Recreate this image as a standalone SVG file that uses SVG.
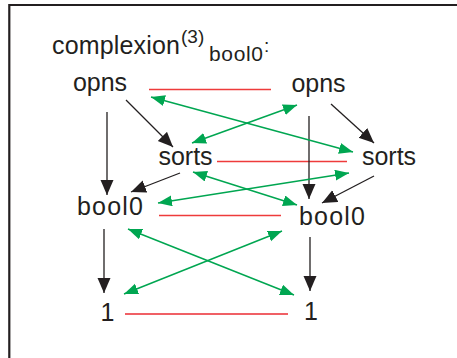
<svg xmlns="http://www.w3.org/2000/svg" width="457" height="358" viewBox="0 0 457 358">
<style>
.t{font-family:"Liberation Sans",Arial,sans-serif;fill:#231f20}
.n{font-size:25px;text-anchor:middle}
.blk{stroke:#231f20;stroke-width:1.3;fill:none;marker-end:url(#hb)}
.grn{stroke:#00a651;stroke-width:1.5;fill:none;marker-start:url(#hg);marker-end:url(#hg)}
.red{stroke:#ee3b3b;stroke-width:1.3}
</style>
<defs>
<marker id="hb" markerUnits="userSpaceOnUse" markerWidth="16" markerHeight="14" refX="15" refY="6.5" orient="auto" viewBox="0 0 16 14">
<path d="M0,0 L15,6.5 L0,13 z" fill="#231f20"/>
</marker>
<marker id="hg" markerUnits="userSpaceOnUse" markerWidth="15" markerHeight="12" refX="14" refY="5.5" orient="auto-start-reverse" viewBox="0 0 15 12">
<path d="M0,0 L14,5.5 L0,11 z" fill="#00a651"/>
</marker>
</defs>
<rect width="457" height="358" fill="#fff"/>
<path d="M9.3,358 V5 H457" fill="none" stroke="#231f20" stroke-width="2.2"/>
<g id="title" class="t">
<text x="52" y="54" font-size="25" textLength="128" lengthAdjust="spacing">complexion</text>
<text x="181" y="43" font-size="19">(3)</text>
<text x="209" y="61" font-size="21" textLength="54" lengthAdjust="spacing">bool0</text>
<text x="264" y="52" font-size="19">:</text>
</g>
<g id="connectors">
<g id="red-lines">
<line class="red" x1="149" y1="89.5" x2="271" y2="89.5"/>
<line class="red" x1="217" y1="161.5" x2="347" y2="161.5"/>
<line class="red" x1="159" y1="215.5" x2="281" y2="215.5"/>
<line x1="125" y1="314" x2="288" y2="314" stroke="#f06065" stroke-width="2"/>
</g>
<g id="black-arrows">
<line class="blk" x1="126" y1="100" x2="173" y2="147"/>
<line class="blk" x1="107" y1="112" x2="107" y2="195"/>
<line class="blk" x1="180" y1="173" x2="131" y2="192"/>
<line class="blk" x1="331" y1="104" x2="374" y2="143"/>
<line class="blk" x1="309" y1="116" x2="309" y2="199"/>
<line class="blk" x1="374" y1="176" x2="322" y2="203"/>
<line class="blk" x1="104" y1="229" x2="104" y2="293"/>
<line class="blk" x1="310" y1="237" x2="310" y2="291"/>
</g>
<g id="green-arrows">
<line class="grn" x1="151" y1="97" x2="353" y2="152"/>
<line class="grn" x1="192" y1="143" x2="297" y2="105"/>
<line class="grn" x1="158" y1="203" x2="349" y2="173"/>
<line class="grn" x1="193" y1="172" x2="297" y2="205"/>
<line class="grn" x1="128" y1="229" x2="294" y2="295"/>
<line class="grn" x1="124" y1="294" x2="282" y2="231"/>
</g>
</g>
<g id="opns-left" class="t n"><text x="100" y="91">opns</text></g>
<g id="opns-right" class="t n"><text x="318.5" y="92">opns</text></g>
<g id="sorts-left" class="t n"><text x="185.5" y="165">sorts</text></g>
<g id="sorts-right" class="t n"><text x="389" y="165">sorts</text></g>
<g id="bool0-left" class="t n"><text x="110" y="215" textLength="66" lengthAdjust="spacing">bool0</text></g>
<g id="bool0-right" class="t n"><text x="332" y="225" textLength="66" lengthAdjust="spacing">bool0</text></g>
<g id="one-left" class="t n"><text x="107.5" y="321">1</text></g>
<g id="one-right" class="t n"><text x="311" y="320">1</text></g>
</svg>
